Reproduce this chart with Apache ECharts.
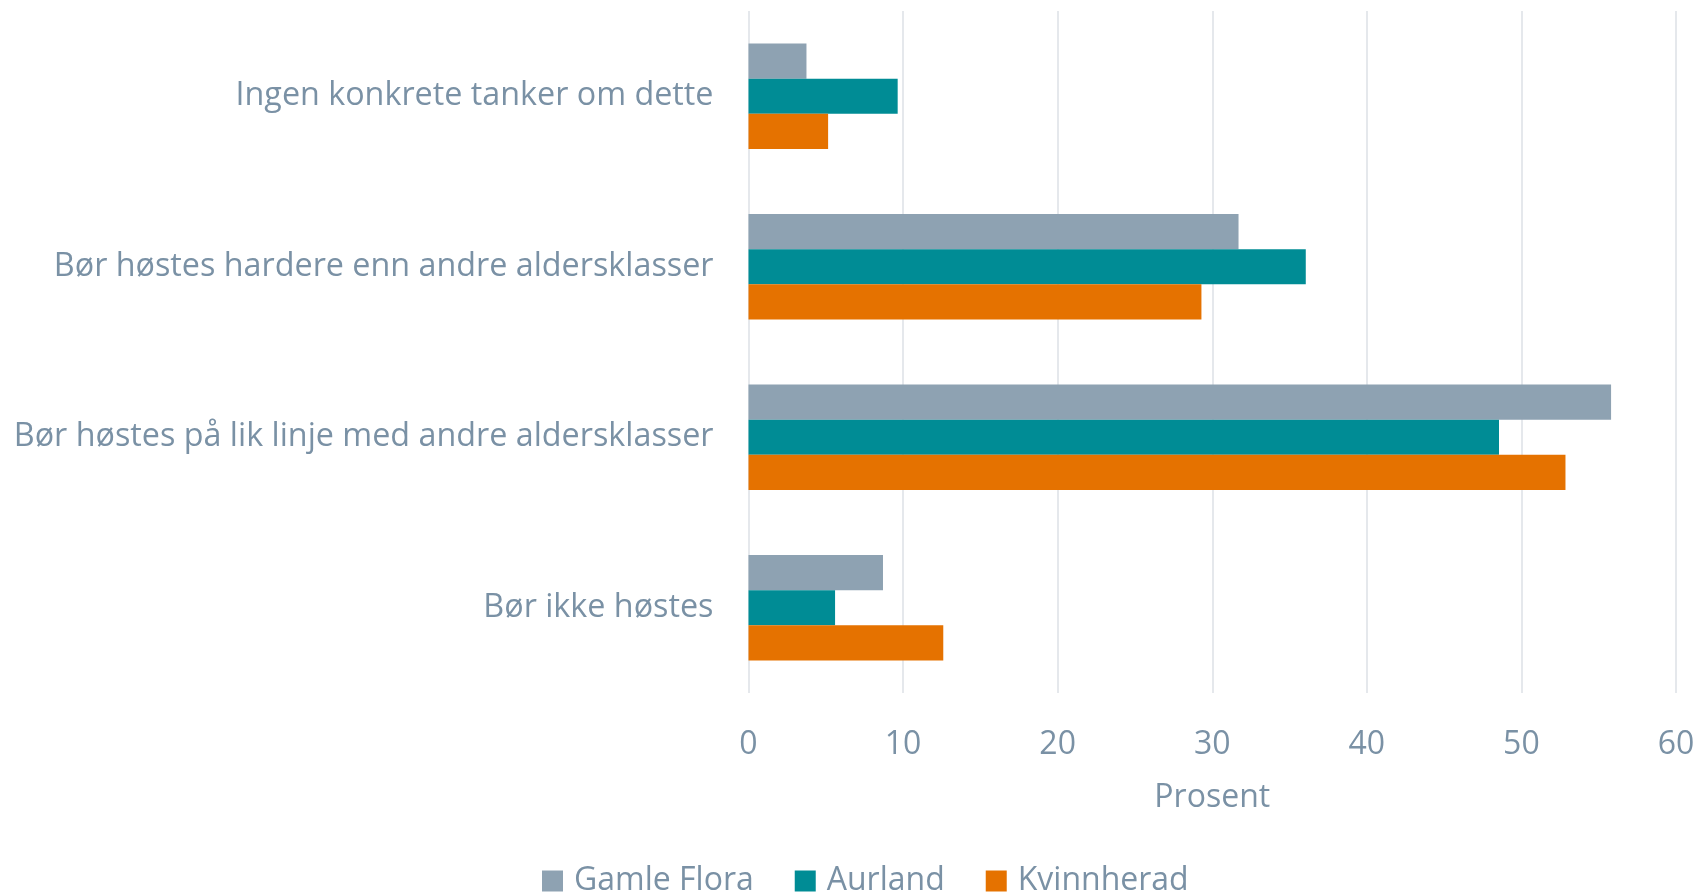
<!DOCTYPE html>
<html>
<head>
<meta charset="utf-8">
<script src="https://cdn.jsdelivr.net/npm/echarts@6/dist/echarts.min.js"></script>
<style>
html,body{margin:0;padding:0;background:#fff;}
#chart{width:1698px;height:894px;}
</style>
</head>
<body>
<div id="chart"></div>
<script>
const categories = [
  "Ingen konkrete tanker om dette",
  "Bør høstes hardere enn andre aldersklasser",
  "Bør høstes på lik linje med andre aldersklasser",
  "Bør ikke høstes"
];
const seriesNames = ["Gamle Flora", "Aurland", "Kvinnherad"];
const gamleFlora = [3.75, 31.7, 55.8, 8.7];
const aurland = [9.65, 36.05, 48.55, 5.6];
const kvinnherad = [5.15, 29.3, 52.85, 12.6];
const colors = ["#8EA2B2", "#008C95", "#E57200"];
const textColor = "#7A91A5";
const fontFam = "'Open Sans', sans-serif";

const chart = echarts.init(document.getElementById('chart'));
const values = [gamleFlora, aurland, kvinnherad];
chart.setOption({
  animation: false,
  backgroundColor: '#fff',
  textStyle: { fontFamily: fontFam },
  grid: { left: 748.5, right: 22, top: 11, bottom: 201, containLabel: false },
  legend: {
    data: seriesNames,
    left: 537,
    top: 860,
    itemWidth: 21,
    itemHeight: 21,
    itemGap: 41,
    icon: 'rect',
    textStyle: { color: textColor, fontSize: 32, fontFamily: fontFam, padding: [0, 0, 0, 6] }
  },
  xAxis: {
    type: 'value',
    min: 0, max: 60, interval: 10,
    name: 'Prosent',
    nameLocation: 'middle',
    nameGap: 89,
    nameTextStyle: { color: textColor, fontSize: 32, fontFamily: fontFam },
    axisLine: { show: false },
    axisTick: { show: false },
    axisLabel: { color: textColor, fontSize: 32, margin: 36, fontFamily: fontFam },
    splitLine: { show: true, lineStyle: { color: '#DDE1E6', width: 1.5 } }
  },
  yAxis: {
    type: 'category',
    inverse: true,
    data: categories,
    axisLine: { show: false },
    axisTick: { show: false },
    axisLabel: { color: textColor, fontSize: 32.3, margin: 35, fontFamily: fontFam, padding: [4, 0, 0, 0] }
  },
  series: seriesNames.map((n, i) => ({
    name: n,
    type: 'bar',
    data: values[i],
    barGap: '0%',
    barCategoryGap: '38%',
    itemStyle: { color: colors[i] }
  }))
});
</script>
</body>
</html>
